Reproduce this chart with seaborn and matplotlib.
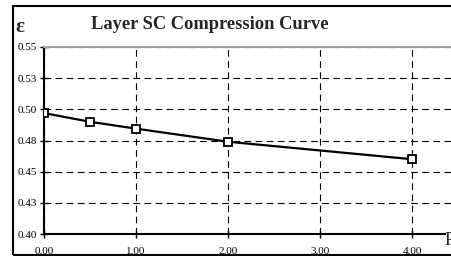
import matplotlib
matplotlib.use('Agg')
import matplotlib.pyplot as plt
import seaborn as sns
from matplotlib.patches import Rectangle

# compression test readings
pressure = [0.0, 0.5, 1.0, 2.0, 4.0]
strain = [0.497, 0.490, 0.4845, 0.474, 0.460]

x_ticks = [0, 1, 2, 3, 4]
x_labels = ['0.00', '1.00', '2.00', '3.00', '4.00']
y_ticks = [0.40, 0.425, 0.45, 0.475, 0.50, 0.525, 0.55]
y_labels = ['0.40', '0.43', '0.45', '0.48', '0.50', '0.53', '0.55']

W, H = 452, 256

sns.set_style('white')
plt.rcParams['font.family'] = ['Liberation Serif', 'DejaVu Serif']

fig = plt.figure(figsize=(W / 100, H / 100), dpi=100)
ax = fig.add_axes([44 / W, 22 / H, 408 / W, 187 / H])

sns.lineplot(x=pressure, y=strain, ax=ax, color='black', linewidth=1.6,
             marker='s', markersize=6, markerfacecolor='white',
             markeredgecolor='black', markeredgewidth=1.3, zorder=3)

ax.set_xlim(0, 408 / 92)
ax.set_ylim(0.40, 0.55)
ax.set_xticks(x_ticks)
ax.set_xticklabels(x_labels)
ax.set_yticks(y_ticks)
ax.set_yticklabels(y_labels)
ax.grid(True, color='black', linestyle=(0, (6, 4)), linewidth=0.8)
ax.set_axisbelow(True)

ax.spines['right'].set_visible(False)
ax.spines['top'].set_color('#a0a0a0')
ax.spines['top'].set_linewidth(1.5)
for side in ['left', 'bottom']:
    ax.spines[side].set_color('black')
    ax.spines[side].set_linewidth(1.5)
ax.spines['bottom'].set_bounds(0, 401 / 92)

ax.tick_params(direction='inout', length=6, width=1, colors='black',
               labelsize=8, bottom=True, left=True)
ax.tick_params(axis='x', pad=6.5)
ax.tick_params(axis='y', pad=2)

fig.text(210 / W, 1 - 29 / H, 'Layer SC Compression Curve', ha='center',
         va='baseline', fontsize=13.3, fontweight='bold')
fig.text(15 / W, 1 - 32 / H, 'ε', ha='left', va='baseline', fontsize=15,
         fontweight='bold')
fig.text(445 / W, 1 - 245 / H, 'P', ha='left', va='baseline', fontsize=13)

# outer frame
fig.patches.append(Rectangle((13.5 / W, 1.5 / H), 1.0, 248.5 / H,
                             transform=fig.transFigure, fill=False,
                             edgecolor='black', linewidth=1.5))

fig.savefig('out.png', dpi=100)
